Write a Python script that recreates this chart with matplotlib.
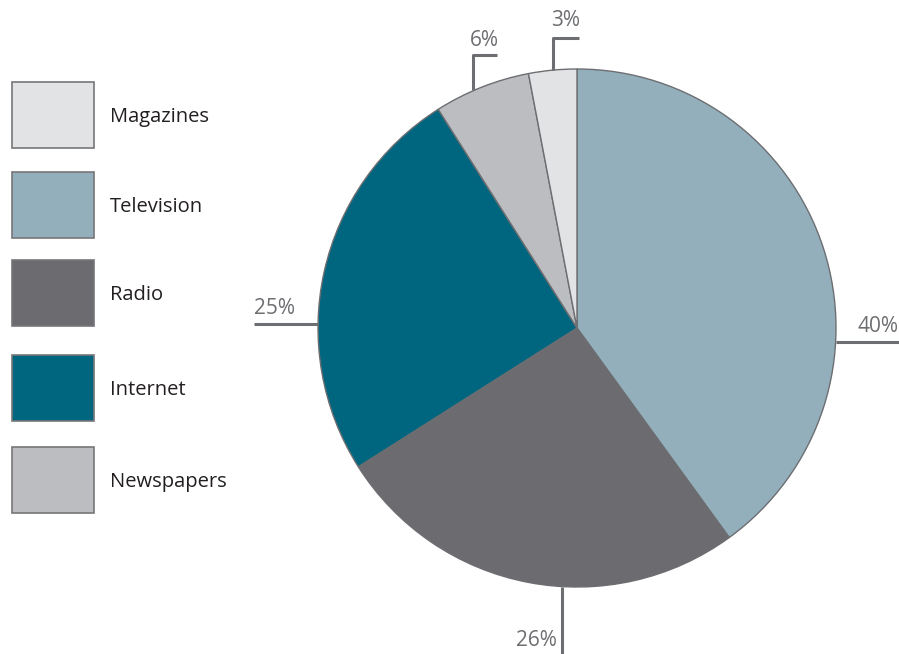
import matplotlib
matplotlib.use("Agg")
import matplotlib.pyplot as plt
from matplotlib.patches import Rectangle

plt.rcParams['font.family'] = ['Open Sans', 'DejaVu Sans']

# media share, clockwise from the top
media = ["Television", "Radio", "Internet", "Newspapers", "Magazines"]
share = [40, 26, 25, 6, 3]
colors = ["#93afbc", "#6b6b70", "#006680", "#bcbdc1", "#e2e3e5"]
legend_order = ["Magazines", "Television", "Radio", "Internet", "Newspapers"]

W, H = 899, 654
fig = plt.figure(figsize=(W / 100, H / 100), dpi=100)
ax = fig.add_axes([0, 0, 1, 1])

def fy(y):
    # pixel row -> data y
    return H - y

cx, cy, r = 577, fy(328), 259
wedges, _ = ax.pie(share, colors=colors, startangle=90, counterclock=False,
                   center=(cx, cy), radius=r, frame=True,
                   wedgeprops=dict(edgecolor="#6d6e71", linewidth=1.0))
ax.set_xlim(0, W)
ax.set_ylim(0, H)
ax.set_aspect("equal")
ax.axis("off")

line_c = "#6d6e71"
txt_c = "#6d6e71"
lw = 2.2

# leader lines (pixel coords) and label spots
leaders = {
    "Television": ([836, 899], [342, 342], 899, 327, "right"),
    "Radio": ([562, 562], [587, 654], 557, 640, "right"),
    "Internet": ([318, 254], [324, 324], 254, 309, "left"),
    "Newspapers": ([473, 473, 497], [90, 55, 55], 484, 40, "center"),
    "Magazines": ([553, 553, 579], [70, 38, 38], 566, 21, "center"),
}
for name, val in zip(media, share):
    xs, ys, tx, ty, ha = leaders[name]
    ax.plot(xs, [fy(v) for v in ys], color=line_c, lw=lw, solid_capstyle="butt", zorder=1)
    ax.text(tx, fy(ty), f"{val}%", color=txt_c, fontsize=15, ha=ha, va="center")

# legend boxes
box_top = [82, 172, 260, 355, 447]
for name, top in zip(legend_order, box_top):
    c = colors[media.index(name)]
    ax.add_patch(Rectangle((12, fy(top + 66)), 82, 66, facecolor=c,
                           edgecolor="#77777a", linewidth=1.2))
    ax.text(110, fy(top + 35), name, color="#231f20", fontsize=14.5, ha="left", va="center")

fig.savefig("out.png", dpi=100)
